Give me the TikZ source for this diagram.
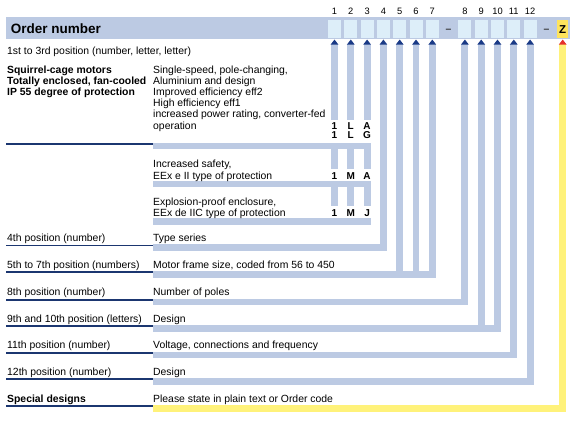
\documentclass[tikz,border=0pt]{standalone}
\usepackage{fontspec}
\setmainfont{Liberation Sans}
\usetikzlibrary{arrows.meta,calc}

\definecolor{barblue}{HTML}{BCCAE3}
\definecolor{cellblue}{HTML}{DDEEF9}
\definecolor{navy}{HTML}{1B3670}
\definecolor{tipblue}{HTML}{1A3A86}
\definecolor{baryellow}{HTML}{FFF27A}
\definecolor{zyellow}{HTML}{FFE45C}
\definecolor{tipred}{HTML}{E5322B}

\begin{document}
\begin{tikzpicture}[
  x=1pt, y=-1pt,
  every node/.style={font=\fontsize{10.4}{11.5}\selectfont, inner sep=0pt},
  txt/.style={anchor=base west},
  boldtxt/.style={anchor=base west, font=\fontsize{10.4}{11.5}\selectfont\bfseries},
  cell/.style={fill=cellblue, minimum width=13pt, minimum height=18pt},
  colnum/.style={anchor=base, font=\fontsize{9.3}{10}\selectfont},
  code/.style={anchor=base, font=\fontsize{10}{11}\selectfont\bfseries},
  bar/.style={draw=barblue, line width=6.9pt, line join=miter,
    -{Triangle[length=5pt,width=7.3pt,color=tipblue]}, shorten >=1.3pt},
  rule/.style={draw=navy, line width=1.8pt}
]
\useasboundingbox (0,0) rectangle (581,424);

% Column pitch of the order number positions
\def\pitch{16.3}
\def\xfirst{334.5}

% Header strip
\fill[barblue] (6,17) rectangle (570,39);
\node[anchor=base west, font=\fontsize{13.5}{14}\selectfont\bfseries] (title) at (10.7,33) {Order number};

\foreach \n/\s in {1/0,2/1,3/2,4/3,5/4,6/5,7/6,8/8,9/9,10/10,11/11,12/12}{
  \node[cell] (c\n) at ({\xfirst+\s*\pitch},29) {};
  \node[colnum] (n\n) at ({\xfirst+\s*\pitch},14) {\n};
}
\node[anchor=base, text=black!80, font=\fontsize{10.4}{11}\selectfont\bfseries] (dasha) at ({\xfirst+7*\pitch},32.5) {\textendash};
\node[anchor=base, text=black!80, font=\fontsize{10.4}{11}\selectfont\bfseries] (dashb) at ({\xfirst+13*\pitch},32.5) {\textendash};
\node[cell, fill=zyellow, minimum width=11pt] (cz) at ({\xfirst+14*\pitch},29) {};
\node[anchor=base, font=\fontsize{11.5}{12}\selectfont\bfseries] (z) at ($(cz.center)+(0,4.3)$) {Z};

% Band rows (left end of each band)
\coordinate (bA) at (153,146);
\coordinate (bB) at (153,184.2);
\coordinate (bC) at (153,221.8);
\coordinate (b4) at (153,247.6);
\coordinate (b5) at (153,274.5);
\coordinate (b8) at (153,302);
\coordinate (b9) at (153,328.5);
\coordinate (b11) at (153,355);
\coordinate (b12) at (153,381.5);
\coordinate (bz) at (153,408.5);

% Bars from each band up to its position
\draw[barblue, line width=6.3pt] (bA) -- ($(bA -| c3.south)+(3.45,0)$);
\draw[barblue, line width=6.3pt] (bB) -- ($(bB -| c3.south)+(3.45,0)$);
\draw[bar] (bC) -- (bC -| c3.south) -- (c3.south);
\foreach \n in {1,2} \draw[bar] (bC -| c\n.south) -- (c\n.south);
\draw[bar] (b4) -- (b4 -| c4.south) -- (c4.south);
\draw[bar] (b5) -- (b5 -| c7.south) -- (c7.south);
\foreach \n in {5,6} \draw[bar] (b5 -| c\n.south) -- (c\n.south);
\draw[bar] (b8) -- (b8 -| c8.south) -- (c8.south);
\draw[bar] (b9) -- (b9 -| c10.south) -- (c10.south);
\draw[bar] (b9 -| c9.south) -- (c9.south);
\draw[bar] (b11) -- (b11 -| c11.south) -- (c11.south);
\draw[bar] (b12) -- (b12 -| c12.south) -- (c12.south);
\draw[bar, draw=baryellow, -{Triangle[length=5pt,width=7.3pt,color=tipred]}] (bz) -- (bz -| cz.south) -- (cz.south);

% Dark rules under the left column
\foreach \r in {bA,b4,b5,b8,b9,b11,b12,bz}
  \draw[rule] ($(\r)+(0,-2.2)$) -- ++(-147,0);

% Codes of positions 1 to 3, cut out of the bars
\fill[white] (330.5,119.5) rectangle (371.5,142.6);
\fill[white] (330.5,168.5) rectangle (371.5,180.8);
\fill[white] (330.5,206) rectangle (371.5,218.4);
\foreach \a/\b/\c/\y/\nm in {1/L/A/129/ka, 1/L/G/138/kb, 1/M/A/179/kc, 1/M/J/216.5/kd}{
  \node[code] (\nm1) at (\xfirst,\y) {\a};
  \node[code] (\nm2) at ({\xfirst+\pitch},\y) {\b};
  \node[code] (\nm3) at ({\xfirst+2*\pitch},\y) {\c};
}

% Texts
\node[txt] (pos13) at (7,54.5) {1st to 3rd position (number, letter, letter)};
\foreach \t [count=\i from 0] in {Squirrel-cage motors, {Totally enclosed, fan-cooled}, IP 55 degree of protection}
  \node[boldtxt] (sqm\i) at (7,{73+11.2*\i}) {\t};
\foreach \t [count=\i from 0] in {{Single-speed, pole-changing,}, Aluminium and design, Improved efficiency eff2, High efficiency eff1, {increased power rating, converter-fed}, operation}
  \node[txt] (std\i) at (153,{73+11.2*\i}) {\t};
\node[txt] (saf0) at (153,167.8) {Increased safety,};
\node[txt] (saf1) at (153,179) {EEx e II type of protection};
\node[txt] (exp0) at (153,205.3) {Explosion-proof enclosure,};
\node[txt] (exp1) at (153,216.5) {EEx de IIC type of protection};

\node[txt] (p4) at (7,241.2) {4th position (number)};
\node[txt] (d4) at (153,241.2) {Type series};
\node[txt] (p5) at (7,268.2) {5th to 7th position (numbers)};
\node[txt] (d5) at (153,268.2) {Motor frame size, coded from 56 to 450};
\node[txt] (p8) at (7,295.8) {8th position (number)};
\node[txt] (d8) at (153,295.8) {Number of poles};
\node[txt] (p9) at (7,322.3) {9th and 10th position (letters)};
\node[txt] (d9) at (153,322.3) {Design};
\node[txt] (p11) at (7,348.8) {11th position (number)};
\node[txt] (d11) at (153,348.8) {Voltage, connections and frequency};
\node[txt] (p12) at (7,375.3) {12th position (number)};
\node[txt] (d12) at (153,375.3) {Design};
\node[boldtxt] (pz) at (7,402.2) {Special designs};
\node[txt] (dz) at (153,402.2) {Please state in plain text or Order code};

\end{tikzpicture}
\end{document}
